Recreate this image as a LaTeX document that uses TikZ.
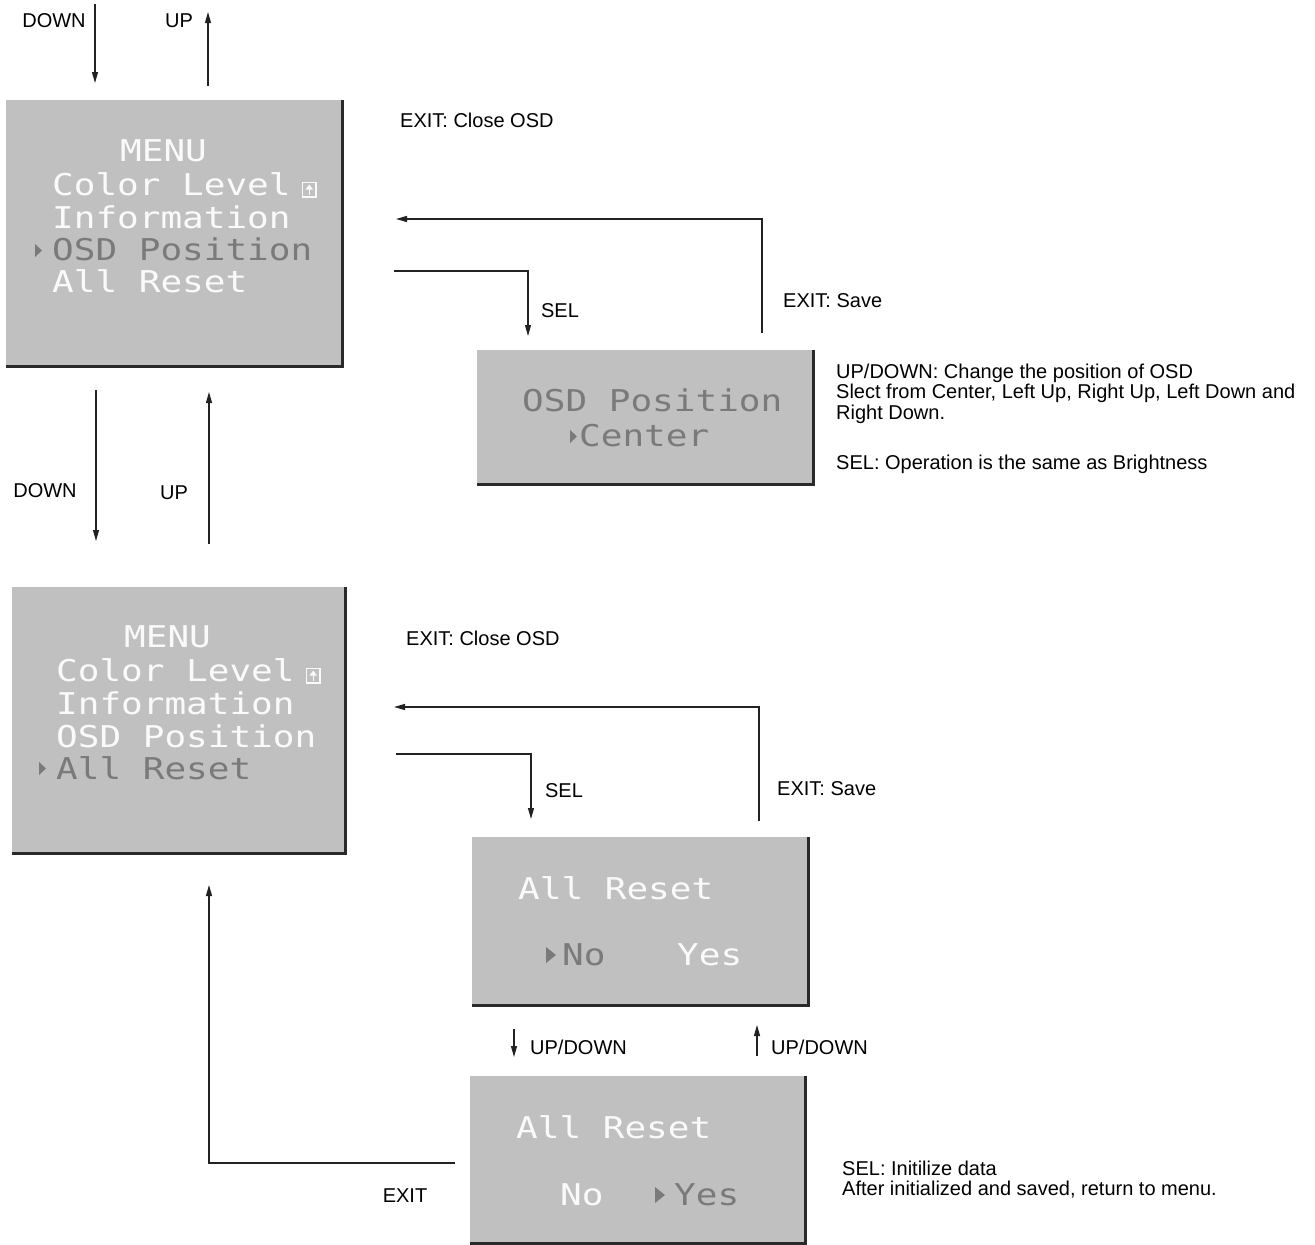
\documentclass[tikz,border=0pt]{standalone}
\usepackage{fontspec}
\setmainfont{Liberation Sans}
\newfontfamily\osdfont{DejaVu Sans Mono}
\usetikzlibrary{arrows.meta}
\definecolor{osdgray}{HTML}{C0C0C0}
\definecolor{osdsel}{HTML}{7A7A7A}
\definecolor{osdwhite}{HTML}{FAFAFA}
\definecolor{shadowc}{HTML}{2A2A2A}
\definecolor{linec}{HTML}{222222}
\newcommand\osd[1]{\scalebox{1.2}[1]{\osdfont\fontsize{30}{30}\selectfont #1}}
\tikzset{
  lbl/.style={font=\fontsize{20}{20.5}\selectfont, inner sep=0pt, text height=14.3pt, text depth=0pt},
  lblw/.style={lbl, anchor=west},
  osdbox/.style={fill=osdgray, draw=none, inner sep=0pt, anchor=north west},
  boxshadow/.style={draw=shadowc, line width=3pt},
  osdt/.style={inner sep=0pt, anchor=west, text=osdwhite, text height=21.9pt, text depth=0pt},
  osds/.style={osdt, text=osdsel},
  conn/.style={line width=1.2pt, draw=linec, -{Triangle[length=11pt,width=6pt]}},
  seltri/.style={fill=osdsel, draw=none},
}
\begin{document}
\begin{tikzpicture}[x=1pt,y=-1pt]
\useasboundingbox (0,0) rectangle (1315,1245);

% ---------- boxes ----------
\node[osdbox, minimum width=336pt, minimum height=266pt] (m1) at (6,100) {};
\draw[boxshadow] (m1.north east) -- (m1.south east) -- (m1.south west);
\node[osdbox, minimum width=336pt, minimum height=134pt] (p1) at (477,350) {};
\draw[boxshadow] (p1.north east) -- (p1.south east) -- (p1.south west);
\node[osdbox, minimum width=333pt, minimum height=266pt] (m2) at (12,587) {};
\draw[boxshadow] (m2.north east) -- (m2.south east) -- (m2.south west);
\node[osdbox, minimum width=336pt, minimum height=168pt] (r1) at (472,837) {};
\draw[boxshadow] (r1.north east) -- (r1.south east) -- (r1.south west);
\node[osdbox, minimum width=335pt, minimum height=167pt] (r2) at (470,1076) {};
\draw[boxshadow] (r2.north east) -- (r2.south east) -- (r2.south west);

% ---------- menu 1 text ----------
\node[osdt] (m1a) at (120,151) {\osd{MENU}};
\node[osdt] (m1b) at (52,185) {\osd{Color Level}};
\draw[osdwhite, line width=1.4pt] (302.5,182.5) rectangle (316,197);
\fill[osdwhite] (309.25,184.5) -- (313,189.5) -- (305.5,189.5) -- cycle;
\draw[osdwhite, line width=1.4pt] (309.25,189) -- (309.25,195);
\node[osdt] (m1c) at (52,218) {\osd{Information}};
\fill[seltri] (35,244) -- (42,250.5) -- (35,257) -- cycle;
\node[osds] (m1d) at (52,250) {\osd{OSD Position}};
\node[osdt] (m1e) at (52,282) {\osd{All Reset}};

% ---------- OSD position box ----------
\node[osds] (p1a) at (522,401) {\osd{OSD Position}};
\fill[seltri] (570,430) -- (577,436.5) -- (570,443) -- cycle;
\node[osds] (p1b) at (579,436) {\osd{Center}};

% ---------- menu 2 text ----------
\node[osdt] (m2a) at (124,637) {\osd{MENU}};
\node[osdt] (m2b) at (56,671) {\osd{Color Level}};
\draw[osdwhite, line width=1.4pt] (306.5,668.5) rectangle (320,683);
\fill[osdwhite] (313.25,670.5) -- (317,675.5) -- (309.5,675.5) -- cycle;
\draw[osdwhite, line width=1.4pt] (313.25,675) -- (313.25,681);
\node[osdt] (m2c) at (56,704) {\osd{Information}};
\node[osdt] (m2d) at (56,737) {\osd{OSD Position}};
\fill[seltri] (39,762) -- (46,768.5) -- (39,775) -- cycle;
\node[osds] (m2e) at (56,769) {\osd{All Reset}};

% ---------- All Reset box 1 ----------
\node[osdt] (r1a) at (518,889) {\osd{All Reset}};
\fill[seltri] (546,947) -- (556,955) -- (546,963) -- cycle;
\node[osds] (r1b) at (562,955) {\osd{No}};
\node[osdt] (r1c) at (677,955) {\osd{Yes}};

% ---------- All Reset box 2 ----------
\node[osdt] (r2a) at (516,1128) {\osd{All Reset}};
\node[osdt] (r2b) at (560,1195) {\osd{No}};
\fill[seltri] (655,1187) -- (665,1195) -- (655,1203) -- cycle;
\node[osds] (r2c) at (674,1195) {\osd{Yes}};

% ---------- connectors ----------
\coordinate (dn1s) at (95,4);   \coordinate (dn1e) at (95,83);
\coordinate (up1s) at (208,86); \coordinate (up1e) at (208,12);
\draw[conn] (dn1s) -- (dn1e);
\draw[conn] (up1s) -- (up1e);
\node[lbl] (ldn1) at (54,20) {DOWN};
\node[lbl] (lup1) at (179,20) {UP};

\coordinate (dn2s) at (96,390);  \coordinate (dn2e) at (96,541);
\coordinate (up2s) at (209,544); \coordinate (up2e) at (209,392);
\draw[conn] (dn2s) -- (dn2e);
\draw[conn] (up2s) -- (up2e);
\node[lbl] (ldn2) at (45,490) {DOWN};
\node[lbl] (lup2) at (174,492) {UP};

\coordinate (sel1s) at (394,271); \coordinate (sel1e) at (528,336);
\draw[conn] (sel1s) -| (sel1e);
\coordinate (ex1s) at (762,333); \coordinate (ex1e) at (396,219);
\draw[conn] (ex1s) |- (ex1e);
\node[lbl] (lsel1) at (560,310) {SEL};
\node[lblw] (lexs1) at (783,300) {EXIT: Save};
\node[lblw] (lexc1) at (400,120) {EXIT: Close OSD};

\node[lblw] (t1) at (836,371) {UP/DOWN: Change the position of OSD};
\node[lblw] (t2) at (836,391.5) {Slect from Center, Left Up, Right Up, Left Down and};
\node[lblw] (t3) at (836,412) {Right Down.};
\node[lblw] (t4) at (836,462) {SEL: Operation is the same as Brightness};

\coordinate (sel2s) at (396,754); \coordinate (sel2e) at (531,819);
\draw[conn] (sel2s) -| (sel2e);
\coordinate (ex2s) at (759,821); \coordinate (ex2e) at (394,707);
\draw[conn] (ex2s) |- (ex2e);
\node[lbl] (lsel2) at (564,790) {SEL};
\node[lblw] (lexs2) at (777,788) {EXIT: Save};
\node[lblw] (lexc2) at (406,638) {EXIT: Close OSD};

\coordinate (ud1s) at (514,1029); \coordinate (ud1e) at (514,1057);
\coordinate (ud2s) at (757,1056); \coordinate (ud2e) at (757,1025);
\draw[conn] (ud1s) -- (ud1e);
\draw[conn] (ud2s) -- (ud2e);
\node[lblw] (lud1) at (530,1047) {UP/DOWN};
\node[lblw] (lud2) at (771,1047) {UP/DOWN};

\coordinate (ex3s) at (455,1163); \coordinate (ex3e) at (209,885);
\draw[conn] (ex3s) -| (ex3e);
\node[lbl] (lex3) at (405,1195) {EXIT};

\node[lblw] (t5) at (842,1168) {SEL: Initilize data};
\node[lblw] (t6) at (842,1188.5) {After initialized and saved, return to menu.};
\end{tikzpicture}
\end{document}
